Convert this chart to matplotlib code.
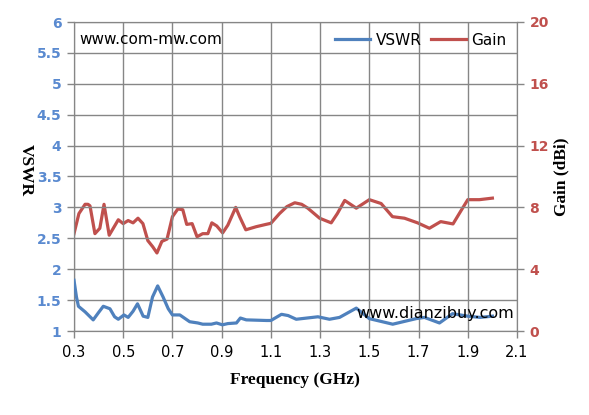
import matplotlib
matplotlib.use('Agg')
import matplotlib.pyplot as plt

# частота, ГГц
freq_vswr = [0.300, 0.310, 0.318, 0.345, 0.378, 0.400, 0.419, 0.446, 0.465, 0.480, 0.503, 0.520,
             0.540, 0.558, 0.581, 0.600, 0.619, 0.640, 0.662, 0.683, 0.700, 0.730,
             0.770, 0.803, 0.823, 0.858, 0.879, 0.903, 0.925, 0.960, 0.976, 1.000,
             1.082, 1.100, 1.143, 1.170, 1.203, 1.291, 1.338, 1.379, 1.447, 1.500, 1.595,
             1.690, 1.724, 1.785, 1.838, 1.900, 1.950, 2.000]
vswr = [1.82, 1.55, 1.40, 1.31, 1.18, 1.30, 1.40, 1.36, 1.23, 1.19, 1.26, 1.22,
        1.32, 1.44, 1.24, 1.22, 1.55, 1.73, 1.55, 1.36, 1.26, 1.26,
        1.15, 1.13, 1.11, 1.11, 1.13, 1.10, 1.12, 1.13, 1.21, 1.18,
        1.17, 1.17, 1.27, 1.25, 1.19, 1.23, 1.19, 1.22, 1.37, 1.20, 1.11,
        1.20, 1.22, 1.13, 1.28, 1.24, 1.22, 1.24]

freq_gain = [0.300, 0.320, 0.345, 0.357, 0.365, 0.385, 0.405, 0.422, 0.443, 0.480,
             0.500, 0.520, 0.540, 0.560, 0.580, 0.600, 0.620, 0.637, 0.657, 0.678,
             0.700, 0.722, 0.742, 0.758, 0.780, 0.800, 0.823, 0.844, 0.860, 0.880,
             0.904, 0.925, 0.957, 0.973, 0.998, 1.040, 1.080, 1.100, 1.135, 1.165, 1.197,
             1.225, 1.250, 1.298, 1.345, 1.370, 1.400, 1.447, 1.500, 1.548, 1.594, 1.643, 1.696,
             1.744, 1.790, 1.840, 1.873, 1.900, 1.947, 2.000]
gain = [6.3, 7.6, 8.2, 8.2, 8.1, 6.3, 6.65, 8.2, 6.2, 7.2,
        6.95, 7.15, 7.0, 7.3, 6.95, 5.85, 5.45, 5.05, 5.8, 5.95,
        7.4, 7.9, 7.85, 6.9, 6.95, 6.1, 6.3, 6.3, 7.0, 6.8,
        6.35, 6.85, 8.0, 7.4, 6.55, 6.75, 6.9, 6.97, 7.6, 8.05, 8.3,
        8.2, 7.95, 7.3, 7.0, 7.6, 8.45, 7.95, 8.5, 8.25, 7.4, 7.3, 7.0,
        6.65, 7.08, 6.93, 7.8, 8.5, 8.5, 8.6]

blue = '#4F81BD'
red = '#C0504D'
grid_c = '#868686'

fig = plt.figure(figsize=(5.89, 4.15), dpi=100)
ax = fig.add_axes([74 / 589, 84 / 415, 443 / 589, 309 / 415])
ax2 = ax.twinx()

l1, = ax.plot(freq_vswr, vswr, color=blue, lw=2.3, label='VSWR', zorder=3,
              solid_joinstyle='round')
l2, = ax2.plot(freq_gain, gain, color=red, lw=2.3, label='Gain', zorder=3,
               solid_joinstyle='round')

ax.set_xlim(0.3, 2.1)
ax.set_ylim(1, 6)
ax2.set_ylim(0, 20)
xt = [0.3, 0.5, 0.7, 0.9, 1.1, 1.3, 1.5, 1.7, 1.9, 2.1]
ax.set_xticks(xt)
ax.set_xticklabels(['%.1f' % v for v in xt])
yt = [1, 1.5, 2, 2.5, 3, 3.5, 4, 4.5, 5, 5.5, 6]
ax.set_yticks(yt)
ax.set_yticklabels(['%g' % v for v in yt])
gt = [0, 4, 8, 12, 16, 20]
ax2.set_yticks(gt)

ax.grid(True, color=grid_c, lw=1)
for a in (ax, ax2):
    for s in a.spines.values():
        s.set_color(grid_c)
    a.tick_params(color=grid_c, length=5, width=1)
ax.tick_params(axis='x', labelsize=10.5, labelcolor='black', pad=5)
ax.tick_params(axis='y', labelsize=10, labelcolor='#5A8AD0', pad=4)
ax2.tick_params(axis='y', labelsize=10, labelcolor=red, pad=4)
for t in ax.get_yticklabels():
    t.set_fontweight('bold')
for t in ax2.get_yticklabels():
    t.set_fontweight('bold')

ax.set_zorder(ax2.get_zorder() + 1)
ax.patch.set_visible(False)

ax.legend([l1, l2], ['VSWR', 'Gain'], loc='upper right', ncol=2, frameon=False,
          fontsize=11, handlelength=2.3, columnspacing=0.6, handletextpad=0.35,
          bbox_to_anchor=(1.0, 1.0), borderaxespad=0.3)

ax.text(0.011, 0.943, 'www.com-mw.com', transform=ax.transAxes, fontsize=11,
        va='center', ha='left', color='black')
ax.text(0.637, 0.058, 'www.dianzibuy.com', transform=ax.transAxes, fontsize=11.5,
        va='center', ha='left', color='black', clip_on=False, zorder=5)

fig.text(295 / 589, 1 - 380 / 415, 'Frequency (GHz)', ha='center', va='center',
         fontsize=12.5, fontweight='bold', family='Liberation Serif')
fig.text(26 / 589, 1 - 170 / 415, 'VSWR', ha='center', va='center', rotation=-90,
         fontsize=12.5, fontweight='bold', family='Liberation Serif')
fig.text(561 / 589, 1 - 177 / 415, 'Gain (dBi)', ha='center', va='center', rotation=90,
         fontsize=12.5, fontweight='bold', family='Liberation Serif')

fig.savefig('out.png', dpi=100)
